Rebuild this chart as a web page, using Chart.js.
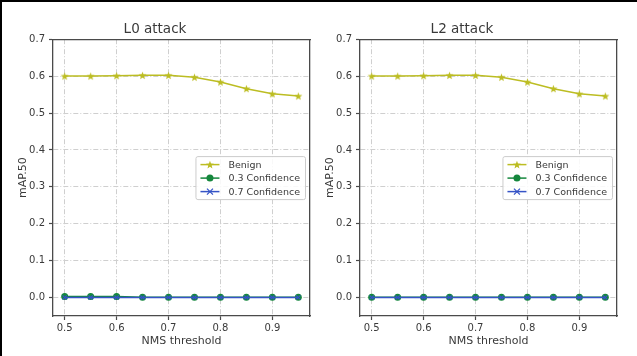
<!DOCTYPE html>
<html><head><meta charset="utf-8">
<script src="https://cdn.jsdelivr.net/npm/chart.js@4.4.1/dist/chart.umd.min.js"></script>
<style>
html,body{margin:0;padding:0;background:#fff;}
#wrap{position:relative;width:637px;height:356px;overflow:hidden;background:#fff;}
canvas{position:absolute;top:0;}
#c0{left:0}
#c1{left:307px}
#frame{position:absolute;left:0;top:0;width:637px;height:356px;border-top:2px solid #000;border-left:2px solid #000;box-sizing:border-box;pointer-events:none;}
</style></head><body>
<div id="wrap"><canvas id="c0" width="318" height="356"></canvas><canvas id="c1" width="318" height="356"></canvas><div id="frame"></div></div>
<script>
// ---- data ----
const nmsThresholds = [0.5, 0.55, 0.6, 0.65, 0.7, 0.75, 0.8, 0.85, 0.9, 0.95];
const xTickValues = [0.5, 0.6, 0.7, 0.8, 0.9];
const yTickValues = [0.0, 0.1, 0.2, 0.3, 0.4, 0.5, 0.6, 0.7];
const panelTitles = ['L0 attack', 'L2 attack'];
const seriesLabels = ['Benign', '0.3 Confidence', '0.7 Confidence'];
const xAxisTitle = 'NMS threshold';
const yAxisTitle = 'mAP.50';

const benignL0 = [0.600, 0.600, 0.601, 0.602, 0.602, 0.597, 0.584, 0.566, 0.552, 0.546];
const conf03L0 = [0.003, 0.003, 0.003, 0.001, 0.001, 0.001, 0.001, 0.001, 0.001, 0.001];
const conf07L0 = [0.000, 0.000, 0.000, 0.000, 0.000, 0.000, 0.000, 0.000, 0.000, 0.000];

const benignL2 = [0.600, 0.600, 0.601, 0.602, 0.602, 0.597, 0.584, 0.566, 0.552, 0.546];
const conf03L2 = [0.001, 0.001, 0.001, 0.001, 0.001, 0.001, 0.001, 0.001, 0.001, 0.001];
const conf07L2 = [0.000, 0.000, 0.000, 0.000, 0.000, 0.000, 0.000, 0.000, 0.000, 0.000];

// ---- styles ----
const OLIVE = '#bcbd22', GREEN = '#15873d', BLUE = '#3553c6';
const FONT = '"DejaVu Sans", sans-serif';
const AXIS = '#4a4a4a', TEXT = '#3a3a3a';

function starPath(ctx, cx, cy, ro, ri) {
  ctx.beginPath();
  for (let i = 0; i < 10; i++) {
    const r = i % 2 ? ri : ro;
    const a = -Math.PI / 2 + i * Math.PI / 5;
    const px = cx + r * Math.cos(a), py = cy + r * Math.sin(a);
    i ? ctx.lineTo(px, py) : ctx.moveTo(px, py);
  }
  ctx.closePath();
}
function starImage(color, r) {
  const s = Math.ceil(r * 2) + 2;
  const c = document.createElement('canvas');
  c.width = s; c.height = s;
  const g = c.getContext('2d');
  starPath(g, s / 2, s / 2 + 0.4, r, r * 0.42);
  g.fillStyle = color; g.fill();
  return c;
}
const starImg = starImage(OLIVE, 4.2);

function toPoints(vals) { return nmsThresholds.map((x, i) => ({x: x, y: vals[i]})); }

function drawMarker(ctx, ds, x, y) {
  if (ds.pointStyle === starImg) {
    starPath(ctx, x, y + 0.4, 4.2, 4.2 * 0.42); ctx.fillStyle = OLIVE; ctx.fill();
  } else if (ds.pointStyle === 'circle') {
    ctx.beginPath(); ctx.arc(x, y, ds.pointRadius, 0, Math.PI * 2);
    ctx.fillStyle = ds.pointBackgroundColor; ctx.fill();
  } else {
    const r = ds.pointRadius;
    ctx.beginPath(); ctx.moveTo(x - r, y - r); ctx.lineTo(x + r, y + r);
    ctx.moveTo(x - r, y + r); ctx.lineTo(x + r, y - r);
    ctx.strokeStyle = ds.borderColor; ctx.lineWidth = 1.2; ctx.stroke();
  }
}

const insideLegend = {
  id: 'insideLegend',
  afterDraw(chart) {
    const ctx = chart.ctx, a = chart.chartArea;
    ctx.save();
    ctx.font = '9.5px ' + FONT;
    const items = chart.data.datasets;
    const tw = Math.max(...items.map(d => ctx.measureText(d.label).width));
    const w = 6 + 18 + 9 + tw + 5, h = 43;
    const right = a.right - 5, left = right - w;
    const top = (a.top + a.bottom) / 2 - h / 2;
    ctx.beginPath();
    ctx.roundRect(left + 0.5, top + 0.5, w, h, 2);
    ctx.fillStyle = 'rgba(255,255,255,0.85)'; ctx.fill();
    ctx.strokeStyle = '#cccccc'; ctx.lineWidth = 1; ctx.stroke();
    items.forEach((d, i) => {
      const y = top + 8.5 + i * 13.5;
      ctx.beginPath(); ctx.moveTo(left + 5, y); ctx.lineTo(left + 24, y);
      ctx.strokeStyle = d.borderColor; ctx.lineWidth = 1.5; ctx.stroke();
      drawMarker(ctx, d, left + 14.5, y);
      ctx.fillStyle = TEXT; ctx.textAlign = 'left'; ctx.textBaseline = 'middle';
      ctx.fillText(d.label, left + 33, y + 0.5);
    });
    ctx.restore();
  }
};

function makeChart(id, title, benign, c03, c07) {
  const gridCommon = {
    color: '#cfcfcf', lineWidth: 1,
    tickColor: AXIS, tickLength: 4, tickWidth: 1.2, tickBorderDash: []
  };
  const borderCommon = {display: true, color: AXIS, width: 1.3, dash: [5, 2, 1, 2]};
  return new Chart(document.getElementById(id), {
    type: 'line',
    data: {
      datasets: [
        {label: seriesLabels[0], data: toPoints(benign), borderColor: OLIVE, backgroundColor: OLIVE,
         borderWidth: 1.5, pointStyle: starImg, pointRadius: 4, order: 2},
        {label: seriesLabels[1], data: toPoints(c03), borderColor: GREEN, backgroundColor: GREEN,
         pointBackgroundColor: GREEN, pointBorderColor: GREEN,
         borderWidth: 1.5, pointStyle: 'circle', pointRadius: 3.5, pointBorderWidth: 0, order: 1},
        {label: seriesLabels[2], data: toPoints(c07), borderColor: BLUE, backgroundColor: BLUE,
         pointBorderColor: BLUE, borderWidth: 1.5, pointStyle: 'crossRot', pointRadius: 3,
         pointBorderWidth: 1.2, order: 0}
      ]
    },
    options: {
      responsive: false, animation: false,
      layout: {padding: {left: 0, right: 8, top: 0, bottom: 0}},
      elements: {line: {tension: 0}},
      plugins: {
        legend: {display: false}, tooltip: {enabled: false},
        title: {display: true, text: title, color: TEXT,
                font: {family: FONT, size: 13.5, weight: 'normal', lineHeight: 1.2},
                padding: {top: 21, bottom: 2}}
      },
      scales: {
        x: {
          type: 'linear', position: 'bottom', min: 0.4775, max: 0.9725,
          afterBuildTicks: s => { s.ticks = xTickValues.map(v => ({value: v})); },
          afterFit: s => { s.height = 40; },
          ticks: {color: TEXT, padding: 2, font: {family: FONT, size: 10},
                  callback: v => v.toFixed(1), maxRotation: 0, autoSkip: false},
          grid: gridCommon,
          border: borderCommon,
          title: {display: true, text: xAxisTitle, color: TEXT,
                  font: {family: FONT, size: 11}, padding: {top: 0, bottom: 8}}
        },
        y: {
          type: 'linear', position: 'left', min: -0.05, max: 0.7,
          afterBuildTicks: s => { s.ticks = yTickValues.map(v => ({value: v})); },
          afterFit: s => { s.width = 53; },
          ticks: {color: TEXT, padding: 4, font: {family: FONT, size: 10},
                  callback: v => v.toFixed(1), autoSkip: false},
          grid: gridCommon,
          border: borderCommon,
          title: {display: true, text: yAxisTitle, color: TEXT,
                  font: {family: FONT, size: 11}, padding: {top: 17, bottom: 0}}
        },
        x2: {
          type: 'linear', position: 'top', min: 0, max: 1,
          afterFit: s => { s.height = 0; },
          ticks: {display: false}, grid: {display: false, drawTicks: false},
          border: {display: true, color: AXIS, width: 1.3}
        },
        y2: {
          type: 'linear', position: 'right', min: 0, max: 1,
          afterFit: s => { s.width = 0; },
          ticks: {display: false}, grid: {display: false, drawTicks: false},
          border: {display: true, color: AXIS, width: 1.3}
        }
      }
    },
    plugins: [insideLegend]
  });
}

makeChart('c0', panelTitles[0], benignL0, conf03L0, conf07L0);
makeChart('c1', panelTitles[1], benignL2, conf03L2, conf07L2);
</script>
</body></html>
